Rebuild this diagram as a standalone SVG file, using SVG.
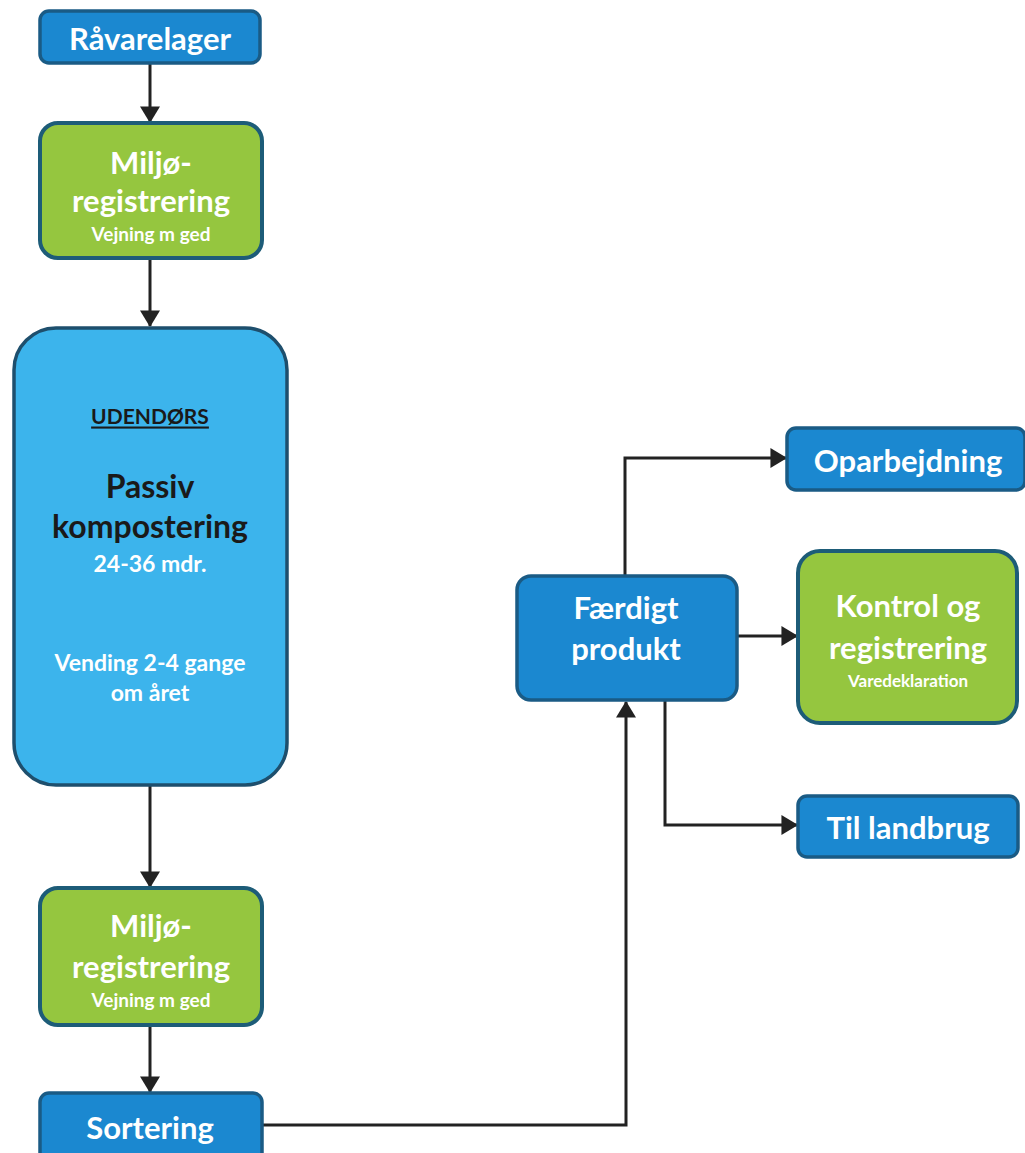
<svg xmlns="http://www.w3.org/2000/svg" width="1025" height="1153" viewBox="0 0 1025 1153">
<defs>
<style>
.blue{fill:#1b88d0;stroke:#1a5b85;stroke-width:3.5}
.green{fill:#95c63f;stroke:#1d5c78;stroke-width:4}
.light{fill:#3cb4ec;stroke:#1e4f6d;stroke-width:3.5}
text{font-family:Lato,"Open Sans","Liberation Sans",sans-serif;font-weight:bold;text-anchor:middle;dominant-baseline:central}
.w{fill:#ffffff}
.d{fill:#1a1a1a}
.big{font-size:31px}
.small{font-size:19px}
.conn{fill:none;stroke:#222222;stroke-width:3}
</style>
<marker id="ah" markerUnits="userSpaceOnUse" markerWidth="18" markerHeight="20" viewBox="0 0 15 18" refX="14" refY="9" orient="auto">
<path d="M0,0 L15,9 L0,18 Z" fill="#222222"/>
</marker>
</defs>
<g id="connectors">
<line class="conn" x1="150" y1="63" x2="150" y2="122" marker-end="url(#ah)"/>
<line class="conn" x1="150" y1="258" x2="150" y2="326" marker-end="url(#ah)"/>
<line class="conn" x1="150" y1="785" x2="150" y2="887" marker-end="url(#ah)"/>
<line class="conn" x1="150" y1="1025" x2="150" y2="1092" marker-end="url(#ah)"/>
<polyline class="conn" points="262,1125 626,1125 626,702" marker-end="url(#ah)"/>
<polyline class="conn" points="625,575 625,458 786,458" marker-end="url(#ah)"/>
<line class="conn" x1="737" y1="636" x2="797" y2="636" marker-end="url(#ah)"/>
<polyline class="conn" points="665,700 665,825 797,825" marker-end="url(#ah)"/>
</g>
<g id="n-ravarelager">
<rect class="blue" x="40" y="11" width="220" height="52" rx="9"/>
<text class="w big" x="150" y="38">Råvarelager</text>
</g>
<g id="n-miljo1">
<rect class="green" x="40" y="123" width="222" height="135" rx="18"/>
<text class="w big" x="151" y="162">Miljø-</text>
<text class="w big" x="151" y="200">registrering</text>
<text class="w small" x="151" y="233">Vejning m ged</text>
</g>
<g id="n-passiv">
<rect class="light" x="14" y="328" width="273" height="457" rx="42"/>
<text class="d" x="150" y="415" font-size="21" text-decoration="underline">UDENDØRS</text>
<text class="d" x="150" y="485" font-size="32">Passiv</text>
<text class="d" x="150" y="525" font-size="32">kompostering</text>
<text class="w" x="150" y="563" font-size="23">24-36 mdr.</text>
<text class="w" x="150" y="662" font-size="23">Vending 2-4 gange</text>
<text class="w" x="150" y="692" font-size="23">om året</text>
</g>
<g id="n-miljo2">
<rect class="green" x="40" y="888" width="222" height="137" rx="18"/>
<text class="w big" x="151" y="925">Miljø-</text>
<text class="w big" x="151" y="966">registrering</text>
<text class="w small" x="151" y="999">Vejning m ged</text>
</g>
<g id="n-sortering">
<rect class="blue" x="40" y="1093" width="222" height="70" rx="9"/>
<text class="w big" x="150" y="1127">Sortering</text>
</g>
<g id="n-faerdigt">
<rect class="blue" x="517" y="576" width="220" height="124" rx="14"/>
<text class="w big" x="626" y="607">Færdigt</text>
<text class="w big" x="626" y="648">produkt</text>
</g>
<g id="n-oparbejdning">
<rect class="blue" x="787" y="428" width="238" height="62" rx="9"/>
<text class="w big" x="908" y="460">Oparbejdning</text>
</g>
<g id="n-kontrol">
<rect class="green" x="798" y="551" width="219" height="172" rx="22"/>
<text class="w big" x="908" y="605">Kontrol og</text>
<text class="w big" x="908" y="647">registrering</text>
<text class="w" x="908" y="680" font-size="17">Varedeklaration</text>
</g>
<g id="n-landbrug">
<rect class="blue" x="798" y="796" width="220" height="61" rx="9"/>
<text class="w big" x="908" y="827">Til landbrug</text>
</g>
</svg>
